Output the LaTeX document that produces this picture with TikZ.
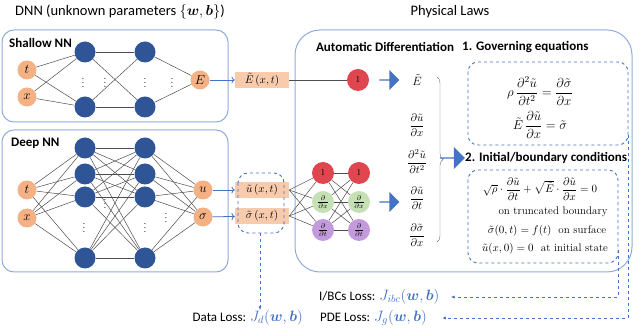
\RequirePackage{fix-cm}
\documentclass[tikz,border=0pt]{standalone}
\usepackage{amsmath,amssymb}
\usepackage{fontspec}
\setsansfont{Carlito}
\usetikzlibrary{shapes.arrows,decorations.pathreplacing,arrows.meta}

\definecolor{nnblue}{RGB}{47,85,151}
\definecolor{inorange}{RGB}{244,177,131}
\definecolor{outorange}{RGB}{248,203,173}
\definecolor{frameblue}{RGB}{143,170,220}
\definecolor{lossblue}{RGB}{68,114,196}
\definecolor{adred}{RGB}{224,70,80}
\definecolor{adgreen}{RGB}{197,224,180}
\definecolor{adpurple}{RGB}{195,155,220}

\newcommand{\lossmath}[1]{\textcolor{lossblue}{\fontsize{15}{17}\selectfont$#1$}}

\begin{document}
\begin{tikzpicture}[x=1pt, y=-1pt,
        frame/.style={draw=frameblue, line width=1pt, rounded corners=12pt},
        dashbox/.style={draw=lossblue, dashed, line width=0.9pt, rounded corners=10pt},
        lossdash/.style={draw=lossblue, dashed, line width=0.9pt, -{Latex[length=4pt]}},
        io/.style={circle, fill=inorange, minimum size=19pt, inner sep=0pt, font=\fontsize{13}{15}\selectfont},
        hidden/.style={circle, fill=nnblue, minimum size=21pt, inner sep=0pt},
        adnode/.style={circle, minimum size=22pt, inner sep=0pt},
        outbox/.style={fill=outorange, minimum width=54pt, minimum height=16pt, inner sep=0pt, font=\fontsize{11}{13}\selectfont},
        wire/.style={draw=black!70, line width=0.5pt},
        bluearrow/.style={single arrow, fill=lossblue, minimum width=20pt, single arrow head extend=3pt, minimum height=20pt, inner sep=0pt},
        losstxt/.style={font=\sffamily\fontsize{13}{15}\selectfont, inner sep=0pt},
        header/.style={font=\sffamily\bfseries\fontsize{13}{15}\selectfont, inner sep=0pt},
        title/.style={font=\sffamily\fontsize{14.5}{17}\selectfont},
        eqtxt/.style={font=\fontsize{13}{15}\selectfont},
        bctxt/.style={font=\fontsize{11}{13}\selectfont, inner sep=1pt}
    ]
        \useasboundingbox (0,0) rectangle (640,328);

        \node[title] (dnntitle) at (120,12) {DNN (unknown parameters $\{\boldsymbol{w},\boldsymbol{b}\}$)};
        \node[title] (phystitle) at (450,12) {Physical Laws};

        % shallow network
        \draw[frame] (2,30) rectangle (228,122);
        \node[header, anchor=west] (shallowlbl) at (9,43) {Shallow NN};
        \node[io] (st) at (27,70) {$t$};
        \node[io] (sx) at (27,97) {$x$};
        \node[hidden] (sa1) at (85,52) {};
        \node[hidden] (sa2) at (85,107) {};
        \node[hidden] (sb1) at (145,52) {};
        \node[hidden] (sb2) at (145,107) {};
        \node[io] (sE) at (200,80) {$E$};
        \node (sdot1) at (83,80) {$\vdots$};
        \node (sdot2) at (105,80) {$\vdots$};
        \node (sdot3) at (145,80) {$\vdots$};
        \node (sdot4) at (172,80) {$\vdots$};
        \foreach \a in {st,sx} \foreach \b in {sa1,sa2} \draw[wire] (\a) -- (\b);
        \foreach \a in {sa1,sa2} \foreach \b in {sb1,sb2} \draw[wire] (\a) -- (\b);
        \foreach \a in {sb1,sb2} \draw[wire] (\a) -- (sE);

        % deep network
        \draw[frame] (2,130) rectangle (228,272);
        \node[header, anchor=west] (deeplbl) at (11,143) {Deep NN};
        \node[io] (dt) at (27,190) {$t$};
        \node[io] (dx) at (27,218) {$x$};
        \node[hidden] (da1) at (85,148) {};
        \node[hidden] (da2) at (85,174) {};
        \node[hidden] (da3) at (85,197) {};
        \node[hidden] (da4) at (85,258) {};
        \node[hidden] (db1) at (145,148) {};
        \node[hidden] (db2) at (145,174) {};
        \node[hidden] (db3) at (145,197) {};
        \node[hidden] (db4) at (145,258) {};
        \node (ddot1) at (84,225) {$\vdots$};
        \node (ddot2) at (105,201) {$\vdots$};
        \node (ddot3) at (145,225) {$\vdots$};
        \node (ddot4) at (166,215) {$\vdots$};
        \node[io] (du) at (203,190) {$u$};
        \node[io] (dsig) at (203,217) {$\sigma$};
        \foreach \a in {dt,dx} \foreach \b in {da1,da2,da3,da4} \draw[wire] (\a) -- (\b);
        \foreach \a in {da1,da2,da3,da4} \foreach \b in {db1,db2,db3,db4} \draw[wire] (\a) -- (\b);
        \foreach \a in {db1,db2,db3,db4} \foreach \b in {du,dsig} \draw[wire] (\a) -- (\b);

        % network outputs
        \node[outbox] (Eout) at (262,80) {$\tilde{E}\,(x,t)$};
        \node[outbox] (uout) at (262,190) {$\tilde{u}\,(x,t)$};
        \node[outbox] (sigout) at (262,216) {$\tilde{\sigma}\,(x,t)$};
        \draw[->, lossblue, thick] (sE) -- (Eout);
        \draw[->, lossblue, thick] (du) -- (uout);
        \draw[->, lossblue, thick] (dsig) -- (sigout);
        \draw[dashbox] (238,173) rectangle (284,233);
        \coordinate (dataout) at (260,233);

        % physical laws
        \draw[frame, rounded corners=25pt] (295,30) rectangle (632,272);
        \node[header] (adlbl) at (385,47) {Automatic Differentiation};
        \node[header, anchor=west] (govlbl) at (462,47) {1. Governing equations};
        \node[adnode, fill=adred, font=\small] (r0) at (358,80) {1};
        \draw[wire] (Eout) -- (r0);
        \node[bluearrow] (arr1) at (389,80) {};
        \node[font=\fontsize{12}{14}\selectfont] (Etil) at (417,80) {$\tilde{E}$};

        \node[adnode, fill=adred, font=\small] (ca1) at (323,173) {1};
        \node[adnode, fill=adgreen] (ca2) at (323,202) {$\tfrac{\partial}{\partial x}$};
        \node[adnode, fill=adpurple] (ca3) at (323,230) {$\tfrac{\partial}{\partial t}$};
        \node[adnode, fill=adred, font=\small] (cb1) at (359,173) {1};
        \node[adnode, fill=adgreen] (cb2) at (359,202) {$\tfrac{\partial}{\partial x}$};
        \node[adnode, fill=adpurple] (cb3) at (359,230) {$\tfrac{\partial}{\partial t}$};
        \foreach \a in {uout,sigout} \foreach \b in {ca1,ca2,ca3} \draw[wire] (\a.east) -- (\b);
        \foreach \a in {ca1,ca2,ca3} \foreach \b in {cb1,cb2,cb3} \draw[wire] (\a) -- (\b);
        \node[bluearrow] (arr2) at (389,202) {};

        \node[font=\fontsize{11}{13}\selectfont] (dudx) at (417,125) {$\dfrac{\partial\tilde{u}}{\partial x}$};
        \node[font=\fontsize{11}{13}\selectfont] (dudtt) at (417,162) {$\dfrac{\partial^2\tilde{u}}{\partial t^2}$};
        \node[font=\fontsize{11}{13}\selectfont] (dudt) at (417,198) {$\dfrac{\partial\tilde{u}}{\partial t}$};
        \node[font=\fontsize{11}{13}\selectfont] (dsdx) at (417,235) {$\dfrac{\partial\tilde{\sigma}}{\partial x}$};
        \draw[decorate, decoration={brace, amplitude=6pt}, black!55] (437,77) -- (437,242);
        \node[bluearrow, minimum width=22pt, minimum height=25pt] (arr3) at (452,158) {};
        \node[header, anchor=west] (bclbl) at (465,158) {2. Initial/boundary conditions};

        % governing equations
        \draw[dashbox] (468,62) rectangle (628,145);
        \node[eqtxt] (eq1) at (540,91) {$\rho\,\dfrac{\partial^2\tilde{u}}{\partial t^2}=\dfrac{\partial\tilde{\sigma}}{\partial x}$};
        \node[eqtxt] (eq2) at (540,125) {$\tilde{E}\,\dfrac{\partial\tilde{u}}{\partial x}=\tilde{\sigma}$};

        % initial / boundary conditions
        \draw[dashbox] (468,170) rectangle (618,263);
        \node[bctxt] (bc1) at (540,189) {$\sqrt{\rho}\cdot\dfrac{\partial\tilde{u}}{\partial t}+\sqrt{\tilde{E}}\cdot\dfrac{\partial\tilde{u}}{\partial x}=0$};
        \node[bctxt] (bc1txt) at (553,212) {on truncated boundary};
        \node[bctxt] (bc2) at (547,231) {$\tilde{\sigma}(0,t)=f(t)$\ \ on surface};
        \node[bctxt] (bc3) at (545,249) {$\tilde{u}(x,0)=0$\ \ at initial state};
        \coordinate (bcout) at (618,250);
        \coordinate (govout) at (628,135);

        % losses
        \node[losstxt, anchor=east] (dataloss) at (303,318) {Data Loss: \lossmath{J_d(\boldsymbol{w},\boldsymbol{b})}};
        \node[losstxt, anchor=west] (ibcloss) at (319,297) {I/BCs Loss: \lossmath{J_{ibc}(\boldsymbol{w},\boldsymbol{b})}};
        \node[losstxt, anchor=west] (pdeloss) at (320,318) {PDE Loss: \lossmath{J_g(\boldsymbol{w},\boldsymbol{b})}};
        \draw[lossdash] (dataout) -- (dataout |- dataloss.north);
        \draw[lossdash] (bcout) |- ([xshift=11pt]ibcloss.east);
        \draw[lossdash] (govout) |- ([xshift=15pt]pdeloss.east);
    \end{tikzpicture}
\end{document}
